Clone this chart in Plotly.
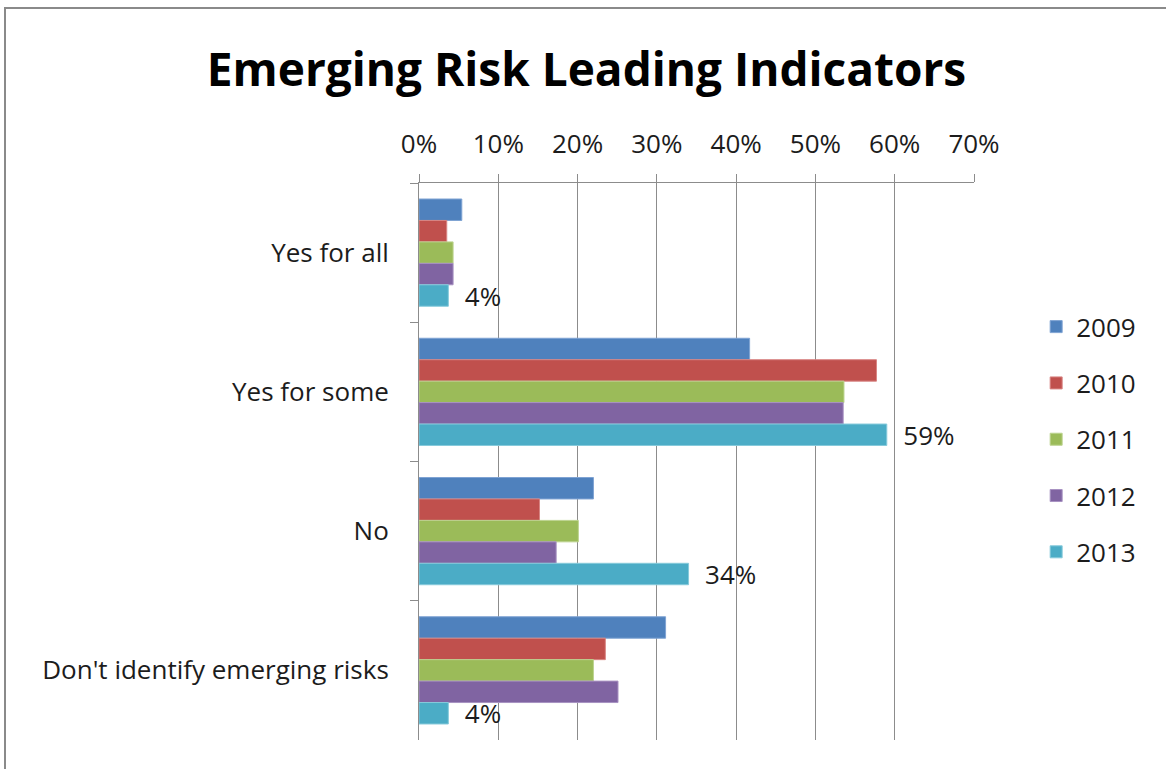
import plotly.graph_objects as go

# Survey responses: share of firms using emerging-risk leading indicators
categories = ["Yes for all", "Yes for some", "No", "Don't identify emerging risks"]
years = ["2009", "2010", "2011", "2012", "2013"]
values = {
    "2009": [0.054, 0.417, 0.220, 0.311],
    "2010": [0.035, 0.577, 0.152, 0.235],
    "2011": [0.043, 0.536, 0.201, 0.220],
    "2012": [0.043, 0.535, 0.173, 0.251],
    "2013": [0.037, 0.590, 0.340, 0.037],
}
colors = ["#4F81BD", "#C0504D", "#9BBB59", "#8064A2", "#4BACC6"]
edge_colors = ["#7FA3D3", "#D88583", "#BCD38F", "#A892C2", "#86CADB"]
labelled_year = "2013"

FONT = "Open Sans"
TEXT = "#1c1c1c"
SIZE = 26

fig = go.Figure()
for yr, col, edge in zip(years, colors, edge_colors):
    show_text = yr == labelled_year
    fig.add_trace(go.Bar(
        name=yr,
        y=categories,
        x=values[yr],
        orientation="h",
        marker=dict(color=col, line=dict(color=edge, width=1)),
        legendgroup=yr,
        texttemplate="\u00a0\u00a0%{x:.0%}" if show_text else None,
        textposition="outside" if show_text else "none",
        constraintext="none",
        textfont=dict(family=FONT, size=SIZE, color=TEXT),
        cliponaxis=False,
    ))

fig.update_layout(
    width=1166,
    height=769,
    margin=dict(l=419, r=192, t=183, b=29),
    paper_bgcolor="white",
    plot_bgcolor="white",
    barmode="group",
    bargap=0.23,
    bargroupgap=0,
    font=dict(family=FONT, size=SIZE, color=TEXT),
    title=dict(
        text="<b>Emerging Risk Leading Indicators</b>",
        font=dict(family=FONT, size=46, color="#000000"),
        x=0.503, xref="container", xanchor="center",
        y=1 - 70 / 769, yref="container", yanchor="middle",
    ),
    legend=dict(
        x=1.112, xanchor="left",
        y=0.54, yanchor="middle",
        font=dict(family=FONT, size=SIZE, color=TEXT),
        tracegroupgap=19.5,
        traceorder="grouped",
        bgcolor="rgba(0,0,0,0)",
    ),
    xaxis=dict(
        side="top",
        range=[0, 0.7],
        dtick=0.1,
        tickformat=".0%",
        showgrid=True,
        gridcolor="#8c8c8c",
        gridwidth=1,
        showline=True,
        linecolor="#8c8c8c",
        linewidth=1,
        ticks="outside",
        ticklen=8,
        tickcolor="#8c8c8c",
        ticklabelstandoff=11,
        zeroline=False,
        fixedrange=True,
    ),
    yaxis=dict(
        autorange="reversed",
        showline=True,
        linecolor="#8c8c8c",
        linewidth=1,
        ticks="outside",
        tickson="boundaries",
        ticklen=8,
        tickcolor="#8c8c8c",
        ticklabelstandoff=24,
        showgrid=False,
        fixedrange=True,
    ),
    shapes=[dict(
        type="rect", xref="paper", yref="paper",
        x0=(5 - 419) / 555, x1=(1180 - 419) / 555,
        y0=-0.2, y1=1 + (183 - 8) / 557,
        line=dict(color="#8a8a8a", width=2),
        fillcolor="rgba(0,0,0,0)",
        layer="below",
    )],
)

fig.write_html("out.html")
